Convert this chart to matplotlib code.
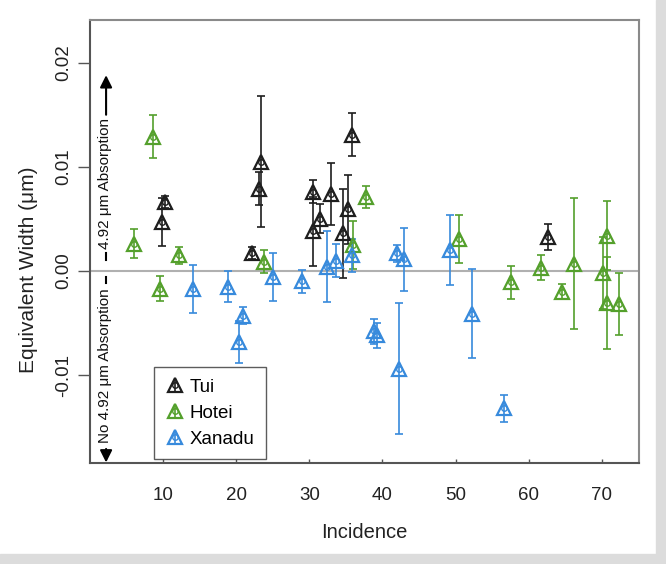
import numpy as np
import matplotlib.pyplot as plt
from matplotlib.lines import Line2D
from matplotlib.patches import Rectangle

plt.rcParams['font.family'] = ['Liberation Sans', 'DejaVu Sans']

# Tui
tui_x = [10.2, 9.9, 22.1, 23.1, 23.4, 30.5, 30.5, 31.5, 32.9, 34.6, 35.3, 35.8, 62.7]
tui_y = [0.0066, 0.0047, 0.0017, 0.0079, 0.0105, 0.0076, 0.0038, 0.0050, 0.0074,
         0.0036, 0.0059, 0.0131, 0.0033]
tui_e = [0.0006, 0.0023, 0.0006, 0.0016, 0.0063, 0.0011, 0.0033, 0.0014, 0.0030,
         0.0043, 0.0033, 0.0021, 0.00125]

# Hotei
hotei_x = [6.0, 8.6, 9.6, 12.2, 23.8, 36.0, 37.8, 50.5, 57.6, 61.7, 64.5, 66.25,
           70.2, 70.75, 70.75, 72.4]
hotei_y = [0.0026, 0.0129, -0.0017, 0.0015, 0.0009, 0.0025, 0.0071, 0.0031,
           -0.0011, 0.0003, -0.0020, 0.0007, -0.0002, 0.0034, -0.0031, -0.0032]
hotei_e = [0.0014, 0.0021, 0.0012, 0.0008, 0.0011, 0.0023, 0.0011, 0.0023,
           0.0016, 0.0012, 0.0007, 0.0063, 0.0035, 0.0033, 0.0044, 0.0030]

# Xanadu
xan_x = [14.05, 18.9, 20.4, 20.9, 25.0, 29.05, 32.4, 33.6, 35.8, 38.8, 39.2,
         42.0, 42.25, 42.9, 49.3, 52.3, 56.6]
xan_y = [-0.0017, -0.0015, -0.0068, -0.0043, -0.0006, -0.0010, 0.0004, 0.0010,
         0.0015, -0.0058, -0.0062, 0.0017, -0.0094, 0.0011, 0.0020, -0.0041, -0.0132]
xan_e = [0.0023, 0.00145, 0.0020, 0.0008, 0.0023, 0.0011, 0.0034, 0.0016,
         0.0016, 0.0012, 0.0012, 0.0008, 0.0063, 0.0030, 0.0034, 0.0043, 0.0013]

series = [('Tui', tui_x, tui_y, tui_e, '#1e1e1e'),
          ('Hotei', hotei_x, hotei_y, hotei_e, '#54a02c'),
          ('Xanadu', xan_x, xan_y, xan_e, '#378adc')]

fig = plt.figure(figsize=(6.66, 5.64), dpi=100)
ax = fig.add_axes([90/666, 1-463/564, (639-90)/666, (463-20)/564])

ax.axhline(0, color='#b0b0b0', lw=1.5, zorder=1)

handles = []
for name, x, y, e, c in series:
    ax.errorbar(x, y, yerr=e, fmt='none', ecolor=c, elinewidth=1.2,
                capsize=3, capthick=1.2, zorder=2)
    ax.plot(x, y, ls='none', marker='^', ms=10.5, mfc='none', mec=c, mew=1.6, zorder=3)
    ax.plot(x, y, ls='none', marker='o', ms=4, mfc='none', mec=c, mew=1.0, zorder=3)
    h1 = Line2D([], [], ls='none', marker='^', ms=10.5, mfc='none', mec=c, mew=1.6)
    h2 = Line2D([], [], ls='none', marker='o', ms=4, mfc='none', mec=c, mew=1.0)
    h3 = Line2D([], [], ls='none', marker='|', ms=9, mec=c, mew=1.2)
    handles.append(((h1, h2, h3), name))

ax.set_xlim(0, 75.1)
ax.set_ylim(-0.01845, 0.0241)
ax.set_xticks([10, 20, 30, 40, 50, 60, 70])
ax.set_yticks([-0.01, 0.0, 0.01, 0.02])
ax.set_yticklabels(['-0.01', '0.00', '0.01', '0.02'])

ax.tick_params(axis='x', direction='in', length=3, width=1, colors='#555555',
               labelcolor='#222222', labelsize=13.5, pad=17)
ax.tick_params(axis='y', direction='out', length=9, width=1, colors='#555555',
               labelcolor='#222222', labelsize=13.5, pad=4)
for lab in ax.get_yticklabels():
    lab.set_rotation(90)
    lab.set_va('center')

for side in ['left', 'bottom']:
    ax.spines[side].set_color('#555555')
    ax.spines[side].set_linewidth(1.5)
for side in ['top', 'right']:
    ax.spines[side].set_color('#8a8a8a')
    ax.spines[side].set_linewidth(1.5)

fig.text(28/666, 1-270/564, 'Equivalent Width (\u03bcm)', rotation=90,
         ha='center', va='center', fontsize=15, color='#222222')
fig.text(364/666, 1-532/564, 'Incidence', ha='center', va='center',
         fontsize=14.5, color='#222222')

# absorption annotation along the left side
ax.text(2.0, 0.0084, '4.92 \u03bcm Absorption', rotation=90, ha='center',
        va='center', fontsize=11, color='#111111')
ax.text(2.0, -0.0091, 'No 4.92 \u03bcm Absorption', rotation=90, ha='center',
        va='center', fontsize=11, color='#111111')
ax.plot([2.2, 2.2], [0.00105, 0.00175], color='black', lw=1.5, clip_on=False)
ax.plot([2.2, 2.2], [-0.0006, -0.0012], color='black', lw=1.5, clip_on=False)
ax.annotate('', xy=(2.2, 0.0188), xytext=(2.2, 0.0150),
            arrowprops=dict(arrowstyle='-|>', color='black', lw=1.5,
                            mutation_scale=18, shrinkA=0, shrinkB=0))
ax.annotate('', xy=(2.2, -0.0184), xytext=(2.2, -0.0171),
            arrowprops=dict(arrowstyle='-|>', color='black', lw=1.5,
                            mutation_scale=18, shrinkA=0, shrinkB=0))

leg = ax.legend([h for h, n in handles], [n for h, n in handles],
                loc='lower left', bbox_to_anchor=(0.1166, 0.009), borderaxespad=0,
                fontsize=13.5, frameon=True, fancybox=False, edgecolor='#333333',
                borderpad=0.6, labelspacing=0.48, handlelength=1.0,
                handletextpad=0.3)
leg.get_frame().set_linewidth(1.0)

# light screenshot shadow on the right and bottom
fig.patches.append(Rectangle((656/666, 0), 10/666, 1, transform=fig.transFigure,
                             color='#dcdcdc', zorder=0))
fig.patches.append(Rectangle((0, 0), 1, 10/564, transform=fig.transFigure,
                             color='#dcdcdc', zorder=0))

fig.savefig('out.png', dpi=100)
